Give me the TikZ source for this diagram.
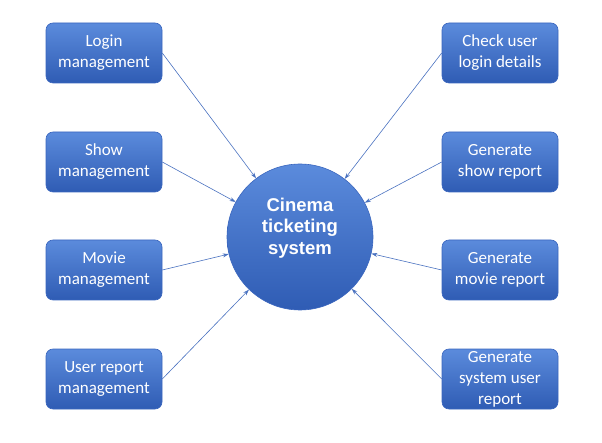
\documentclass[tikz,border=0pt]{standalone}
\usepackage{fontspec}
\setmainfont{Carlito}
\newfontfamily\hubfont{Liberation Sans}
\usetikzlibrary{arrows.meta}
\definecolor{boxtop}{HTML}{5B8BDC}
\definecolor{boxbot}{HTML}{2F5CB4}
\definecolor{boxline}{HTML}{3A66BE}
\definecolor{arrline}{HTML}{4A72C0}
\begin{document}
\begin{tikzpicture}[x=1pt,y=-1pt,
			task/.style={rectangle,rounded corners=7pt,draw=boxline,line width=0.6pt,
				top color=boxtop,bottom color=boxbot,text=white,align=center,
				minimum width=116pt,minimum height=60pt,inner sep=2pt,
				font=\fontsize{17}{21}\selectfont},
			hub/.style={circle,draw=boxline,line width=0.6pt,
				top color=boxtop,bottom color=boxbot,text=white,align=center,
				minimum size=146pt,inner sep=0pt,
				font=\hubfont\bfseries\fontsize{18.5}{21.5}\selectfont},
			hubtext/.style={text=white,align=center,inner sep=0pt,
				font=\hubfont\bfseries\fontsize{18.5}{21.5}\selectfont},
			arr/.style={-{Stealth[length=6pt,width=4pt]},draw=arrline,line width=0.6pt}]
			\useasboundingbox (0,0) rectangle (602,443);
			\node [hub]		(cinema)		at (300,237)		{};
			\node [hubtext]	(cinematext)	at (300,228)		{Cinema\\ticketing\\system};
			% left side
			\node [task]	(login)		at (104,53)		{Login\\management};
			\node [task]	(show)		at (104,162)		{Show\\management};
			\node [task]	(movie)		at (104,270)		{Movie\\management};
			\node [task]	(userrep)	at (104,379)		{User report\\management};
			% right side
			\node [task]	(checklogin)	at (500,53)		{Check user\\login details};
			\node [task]	(showrep)	at (500,162)		{Generate\\show report};
			\node [task]	(movierep)	at (500,270)		{Generate\\movie report};
			\node [task]	(sysrep)	at (500,379)		{Generate\\system user\\report};
			\draw [arr] (login.east) -- (cinema);
			\draw [arr] (show.east) -- (cinema);
			\draw [arr] (movie.east) -- (cinema);
			\draw [arr] (userrep.east) -- (cinema);
			\draw [arr] (checklogin.west) -- (cinema);
			\draw [arr] (showrep.west) -- (cinema);
			\draw [arr] (movierep.west) -- (cinema);
			\draw [arr] (sysrep.west) -- (cinema);
\end{tikzpicture}
\end{document}
